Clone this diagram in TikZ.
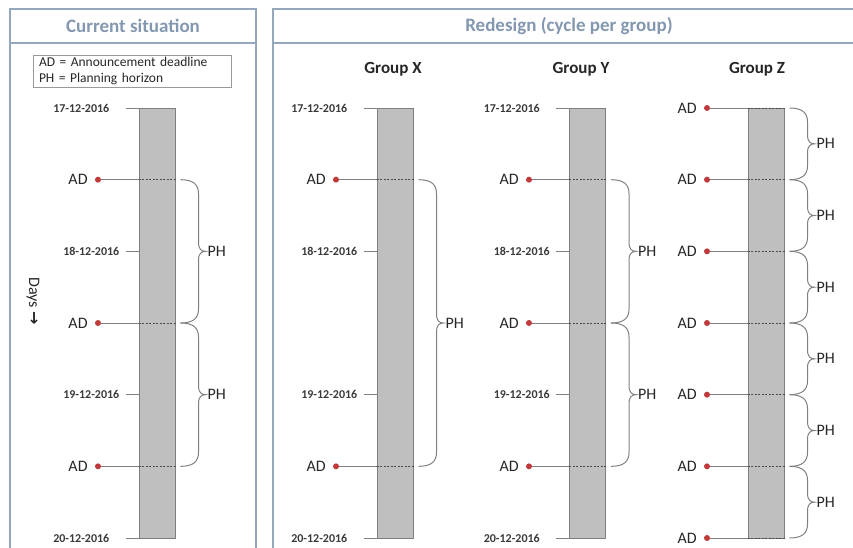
\documentclass[tikz,border=0pt]{standalone}
\usepackage{fontspec}
\setmainfont{Carlito}
\newfontfamily\arrowfont{DejaVu Sans}
\usetikzlibrary{calc,positioning}
\definecolor{framec}{HTML}{95A7BD}
\definecolor{titlec}{HTML}{8497B0}
\definecolor{barfill}{HTML}{BFBFBF}
\definecolor{barline}{HTML}{7F7F7F}
\definecolor{dotred}{HTML}{C0393B}
\definecolor{linegray}{HTML}{808080}
\definecolor{textdark}{HTML}{262626}
\definecolor{datec}{HTML}{3A3A3A}
\newcommand{\fsz}[1]{\fontsize{#1}{#1}\selectfont}

\begin{document}
\begin{tikzpicture}[x=1pt,y=-1pt,
  panel/.style={draw=framec,line width=1.3pt},
  paneltitle/.style={font=\bfseries\fsz{19},text=titlec},
  grouplab/.style={font=\bfseries\fsz{17},text=textdark},
  legend/.style={draw=linegray!80,line width=0.8pt,align=left,text width=186pt,
                 inner xsep=6pt,inner ysep=2pt,minimum height=32pt,
                 font=\fontsize{13.5}{16}\selectfont,text=textdark},
  bar/.style={draw=barline,fill=barfill,line width=1pt,inner sep=0pt,
              minimum width=36pt,minimum height=430pt},
  tick/.style={draw=linegray,line width=1pt},
  datelab/.style={font=\bfseries\fsz{12},text=datec,inner sep=0pt},
  addot/.style={circle,fill=dotred,inner sep=0pt,minimum size=6pt},
  adlab/.style={font=\fsz{16},text=textdark,inner sep=0pt},
  adline/.style={draw=linegray,line width=1pt},
  adcross/.style={draw=black!70,line width=0.9pt,dash pattern=on 2pt off 1.5pt},
  phlab/.style={font=\fsz{16},text=textdark,right,inner sep=2pt},
  phbrace/.style={draw=linegray,line width=1pt,to path={
    .. controls ($(\tikztostart)+(13,0)$) and ($(\tikztostart)+(18,5)$) .. ($(\tikztostart)+(18,14)$)
    -- ($(\tikztostart)!.5!(\tikztotarget)+(18,-9)$)
    .. controls ($(\tikztostart)!.5!(\tikztotarget)+(18,-2)$) and ($(\tikztostart)!.5!(\tikztotarget)+(21,0)$) .. ($(\tikztostart)!.5!(\tikztotarget)+(25,0)$)
    .. controls ($(\tikztostart)!.5!(\tikztotarget)+(21,0)$) and ($(\tikztostart)!.5!(\tikztotarget)+(18,2)$) .. ($(\tikztostart)!.5!(\tikztotarget)+(18,9)$)
    -- ($(\tikztotarget)+(18,-14)$)
    .. controls ($(\tikztotarget)+(18,-5)$) and ($(\tikztotarget)+(13,0)$) .. (\tikztotarget)}}
]
\useasboundingbox (0,0) rectangle (853,547);
\clip (0,0) rectangle (853,547);

% panels
\draw[panel] (10,9) rectangle (256,600);
\draw[panel] (10,43) -- (256,43);
\draw[panel] (273,9) rectangle (900,600);
\draw[panel] (273,43) -- (900,43);
\node[paneltitle] (tcur) at (133,26) {Current situation};
\node[paneltitle] (tred) at (569,26) {Redesign (cycle per group)};

% legend and axis label
\node[legend] (leg) at (132,71) {AD = Announcement deadline\\PH = Planning horizon};
\node[adlab,rotate=-90] (days) at (33,301) {Days {\arrowfont\bfseries →}};

% bars
\node[bar] (barC) at (157,323) {};
\node[bar] (barX) at (395,323) {};
\node[bar] (barY) at (587.5,323) {};
\node[bar] (barZ) at (766,323) {};
\node[grouplab] (gX) at (393,69) {Group X};
\node[grouplab] (gY) at (581,69) {Group Y};
\node[grouplab] (gZ) at (757,69) {Group Z};

% dates
\foreach \b in {C,X,Y}{
  \foreach \k/\dd/\gap in {0/17/16,2/18/6,4/19/6,6/20/16}{
    \pgfmathsetmacro{\yy}{108+\k*71.667}
    \coordinate (t\b\k) at (bar\b.west |- 0,\yy);
    \draw[tick] (t\b\k) -- ++(-13,0) coordinate (ts\b\k);
    \node[datelab,left=\gap pt of ts\b\k] (dt\b\k) {\dd-12-2016};
  }
}

% announcement deadlines
\foreach \b/\bx/\ks in {C/98/{1,3,5},X/336/{1,5},Y/529/{1,3,5},Z/707/{0,1,2,3,4,5,6}}{
  \foreach \k in \ks {
    \pgfmathsetmacro{\yy}{108+\k*71.667}
    \node[addot] (d\b\k) at (\bx,\yy) {};
    \node[adlab,left=7pt of d\b\k] (a\b\k) {AD};
    \draw[adline] (d\b\k) -- (d\b\k -| bar\b.west);
    \draw[adcross] (d\b\k -| bar\b.west) -- (d\b\k -| bar\b.east);
    \coordinate (e\b\k) at ($(d\b\k -| bar\b.east)+(5,0)$);
  }
}

% planning horizons
\foreach \b/\i/\j in {C/1/3,C/3/5,X/1/5,Y/1/3,Y/3/5,Z/0/1,Z/1/2,Z/2/3,Z/3/4,Z/4/5,Z/5/6}{
  \draw[phbrace] (e\b\i) to (e\b\j);
  \node[phlab] (p\b\i) at ($(e\b\i)!.5!(e\b\j)+(25,0)$) {PH};
}
\end{tikzpicture}
\end{document}
